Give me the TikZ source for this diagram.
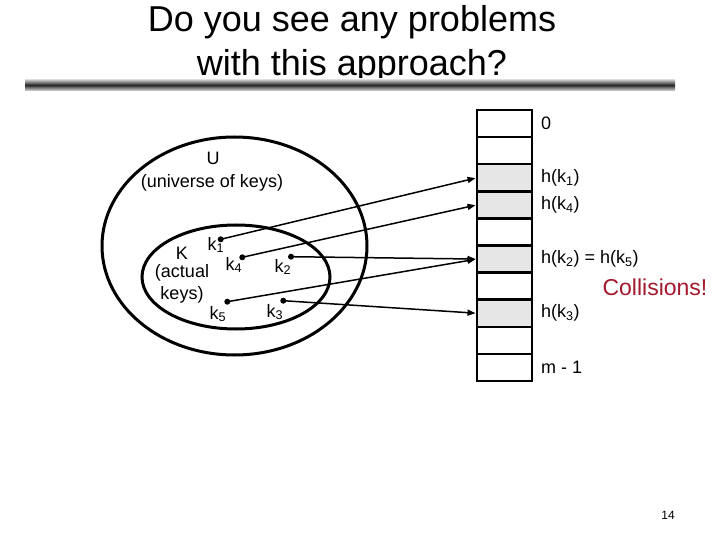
\documentclass[tikz,border=0pt]{standalone}
\usepackage{fontspec}
\setmainfont{Liberation Sans}
\usepackage{xcolor}
\usepackage{tikz}
\usetikzlibrary{shapes,arrows,positioning,calc,arrows.meta}
\definecolor{collred}{RGB}{162,25,45}
\definecolor{slotgray}{RGB}{230,230,230}

\begin{document}
\begin{tikzpicture}[x=1pt,y=-1pt,
    slot/.style={draw, line width=2.6pt, minimum width=55pt, minimum height=27.1pt, inner sep=0pt, outer sep=0pt},
    used/.style={slot, fill=slotgray},
    keydot/.style={circle, fill, inner sep=0pt, minimum size=6pt},
    lbl/.style={inner sep=0pt, font=\fontsize{18}{20}\selectfont},
    slotlbl/.style={anchor=west, inner sep=0pt, font=\fontsize{18}{20}\selectfont},
    hasharrow/.style={line width=1.5pt, shorten >=1.5pt, -{Triangle[length=8pt,width=6pt]}}]
    \useasboundingbox (0,0) rectangle (720,540);

    % title and rule
    \node (title1) at (352,22) {\fontsize{36}{40}\selectfont Do you see any problems};
    \node (title2) at (352,66) {\fontsize{36}{40}\selectfont with this approach?};
    \shade[top color=gray!25, bottom color=gray!25, middle color=black!85] (25,79) rectangle (675,91);

    % universe and actual keys
    \node[ellipse, draw, line width=3pt, minimum width=265pt, minimum height=218pt] (U) at (234.5,246) {};
    \node[ellipse, draw, line width=3pt, minimum width=188pt, minimum height=104pt] (K) at (236,277) {};
    \node[lbl] (lblU) at (213,158) {U};
    \node[lbl] (lblUniv) at (212,183) {(universe of keys)};
    \node[lbl] (lblK) at (182,253) {K};
    \node[lbl] (lblAct) at (182,273) {(actual};
    \node[lbl] (lblKeys) at (182,295) {keys)};

    % keys
    \node[keydot] (k1) at (220.7,239.3) {};
    \node[keydot] (k4) at (242.3,257.3) {};
    \node[keydot] (k2) at (291,256.7) {};
    \node[keydot] (k5) at (227.3,301.7) {};
    \node[keydot] (k3) at (283.3,300.7) {};
    \node[lbl] (lk1) at (216,245) {k\textsubscript{1}};
    \node[lbl] (lk4) at (234,265) {k\textsubscript{4}};
    \node[lbl] (lk2) at (283,267) {k\textsubscript{2}};
    \node[lbl] (lk5) at (218,314) {k\textsubscript{5}};
    \node[lbl] (lk3) at (275,312) {k\textsubscript{3}};

    % hash table
    \foreach \i/\s in {0/slot,1/slot,2/used,3/used,4/slot,5/used,6/slot,7/used,8/slot,9/slot}
        \node[\s] (slot\i) at (504.5,{123.55+27.1*\i}) {};

    \node[slotlbl] (h0) at ([xshift=9pt]slot0.east) {0};
    \node[slotlbl] (h1) at ([xshift=9pt]slot2.east) {h(k\textsubscript{1})};
    \node[slotlbl] (h4) at ([xshift=9pt]slot3.east) {h(k\textsubscript{4})};
    \node[slotlbl] (h25) at ([xshift=9pt]slot5.east) {h(k\textsubscript{2}) = h(k\textsubscript{5})};
    \node[slotlbl] (h3) at ([xshift=9pt]slot7.east) {h(k\textsubscript{3})};
    \node[slotlbl] (hm) at ([xshift=9pt]slot9.east) {m - 1};
    \node[text=collred, font=\fontsize{23}{26}\selectfont] (coll) at (655,287) {Collisions!};

    % hashing
    \draw[hasharrow] (k1.center) -- (slot2.west);
    \draw[hasharrow] (k4.center) -- (slot3.west);
    \draw[hasharrow] (k2.center) -- (slot5.west);
    \draw[hasharrow] (k5.center) -- (slot5.west);
    \draw[hasharrow] (k3.center) -- (slot7.west);

    \node (page) at (668,515) {\fontsize{12}{14}\selectfont 14};
\end{tikzpicture}
\end{document}
